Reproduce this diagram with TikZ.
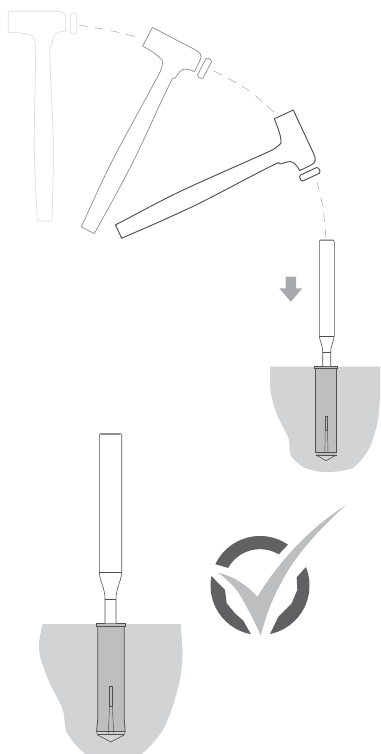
\documentclass[tikz,border=0pt]{standalone}
\definecolor{pale}{HTML}{DCDDDE}
\definecolor{midg}{HTML}{8C8D8F}
\definecolor{darkg}{HTML}{4F5052}
\definecolor{soil}{HTML}{D1D3D4}
\definecolor{sleeve}{HTML}{BCBEC0}
\definecolor{arrowg}{HTML}{A7A9AC}
\tikzset{
  tool/.style={draw=darkg,line width=0.6pt,line join=round,fill=white},
  thinl/.style={draw=darkg,line width=0.45pt},
  arcdash/.style={draw=midg!80,line width=0.5pt,dash pattern=on 9pt off 7pt},
  dark/.style={fill=darkg!90!white,draw=none}
}
\newcommand{\hammerbody}[2]{%
  \draw[#1,line width=#2,line join=round,fill=white]
    (8.3,11.3) -- (57,11.3) .. controls (62,11.3) and (65.7,13) .. (65.7,18) -- (66,31)
    .. controls (63,31.5) and (60,31.5) .. (58,32.5)
    .. controls (54,34) and (52.8,37) .. (52.5,41) -- (51.7,46) -- (49.7,47)
    .. controls (50,80) and (53.5,120) .. (53.3,150)
    .. controls (53.3,180) and (52.5,200) .. (52,221) -- (37.3,221)
    .. controls (36,190) and (34.3,170) .. (34.3,145)
    .. controls (34.3,110) and (35.5,80) .. (35.7,46.7)
    .. controls (35,42) and (34.5,39) .. (33.3,36.7)
    .. controls (30,34) and (20,32.5) .. (8.3,32.3) -- cycle;
  \draw[#1,line width=#2,fill=white,rounded corners=1.5pt]
    (70.3,13) rectangle (76.7,34);
}
\begin{document}
\begin{tikzpicture}[x=1pt,y=-1pt]
\useasboundingbox (0,0) rectangle (380,754);
% arc
\draw[arcdash] plot[smooth] coordinates {(79,25) (108,30) (137,37)};
\draw[arcdash] plot[smooth] coordinates {(214,71) (248,90) (277,115)};
\draw[arcdash] plot[smooth] coordinates {(317,182) (323,208) (326,239)};
% hammers
\hammerbody{pale}{0.7pt}
\begin{scope}[shift={(150.2,13.6)},rotate=-27.5]\hammerbody{midg}{0.7pt}\end{scope}
\begin{scope}[shift={(300,97.7)},rotate=-65]\hammerbody{darkg}{0.95pt}\end{scope}
% arrow
\fill[arrowg] (285.7,276.7) -- (296,276.7) -- (296,288.3) -- (302.3,288.3) -- (290.8,301.7) -- (279.3,288.3) -- (285.7,288.3) -- cycle;
% small ground
\fill[soil] (270,366.5) -- (380,366.5) -- (380,397) .. controls (379,420) and (376,432) .. (370,447)
  .. controls (364,458) and (358,464) .. (353,468) .. controls (345,471) and (335,472) .. (327,472)
  .. controls (318,472) and (310,470) .. (303,467) .. controls (296,462) and (291,458) .. (290,453)
  .. controls (289,445) and (290,442) .. (288,437) .. controls (284,428) and (281,424) .. (278,417)
  .. controls (274,407) and (271,397) .. (270,387) -- cycle;
% small anchor
\draw[tool,fill=soil] (316,455) -- (326,460.7) -- (336.5,455);
\fill[sleeve] (315.7,368) rectangle (336.7,454.5);
\draw[thinl,line width=0.7pt] (315.7,368) -- (315.7,452.5) (336.7,368) -- (336.7,452.5);
\draw[thinl] (315.7,452.5) -- (336.7,452.5) (315.7,455) -- (336.7,455);
\draw[thinl,fill=sleeve] (325.3,416.5) -- (327.5,416.5) -- (327.5,430) -- (325.3,430) -- cycle;
\draw[thinl] (325.3,430) -- (324.8,453) (327.5,430) -- (328,453);
\draw[thinl,fill=sleeve] (314.7,366) rectangle (337.7,368.7);
\draw[tool] (322.7,366) -- (322.7,352.7) .. controls (322.7,345) and (320,342) .. (319.3,336) -- (319.3,241.5) -- (320.3,240) -- (333.3,240) -- (334.3,241.5) -- (334.3,336) .. controls (333.7,342) and (330.7,345) .. (330.7,352.7) -- (330.7,366);
\draw[thinl] (322.7,352.7) -- (330.7,352.7) (319.3,336) -- (334.3,336);
\fill[midg] (320.3,240) rectangle (333.3,241.3);
% large ground
\fill[soil] (42.7,624) -- (180.7,624) -- (182.7,653) .. controls (182,670) and (180,682) .. (176.7,693)
  .. controls (173,707) and (168,720) .. (163,730) .. controls (156,740) and (150,747) .. (141.7,754)
  -- (85,754) .. controls (77,747) and (71,740) .. (66,731)
  .. controls (64,722) and (65,715) .. (61.7,706.7) .. controls (57,697) and (53,690) .. (48.3,680)
  .. controls (44,668) and (39,658) .. (39,646.7) .. controls (39,638) and (41,631) .. (42.7,624) -- cycle;
% large anchor
\draw[tool,fill=soil] (97.7,735) -- (110.9,742) -- (124,735);
\fill[sleeve] (97.7,626) -- (124.3,626) -- (124.3,720) -- (125,731.5) -- (96.3,731.5) -- (97.7,720) -- cycle;
\draw[thinl,line width=0.8pt] (97.7,626) -- (97.7,720) -- (96.5,731.7);
\draw[thinl,line width=0.8pt] (124.3,626) -- (124.3,720) -- (125.2,731.7);
\draw[thinl] (96.5,731.7) -- (125.2,731.7) (97.7,734.2) -- (124,734.2);
\draw[thinl] (96.5,731.7) -- (97.7,735) (125.2,731.7) -- (124,735);
\draw[thinl,fill=sleeve] (109.6,686.7) -- (112.2,686.7) -- (112.2,706) -- (109.6,706) -- cycle;
\draw[thinl] (109.6,706) -- (108.3,733.5) (112.2,706) -- (113.8,733.5);
\draw[thinl,fill=sleeve] (96.7,623.3) rectangle (125,626.7);
\draw[tool] (105,623.3) -- (105,599) .. controls (105,588) and (100,582) .. (99.3,572.7) -- (99.3,435) -- (101,433.3) -- (120,433.3) -- (121.7,435) -- (121.7,572.7) .. controls (121,582) and (116,588) .. (116,599) -- (116,623.3);
\draw[thinl] (105,599) -- (116,599) (99.3,572.7) -- (121.7,572.7);
\fill[midg] (101,433.3) rectangle (120,434.8);
% check ring
\fill[dark] plot[domain=205.5:304.4,samples=40] ({260+49.5*cos(\x)},{585.5+49.5*sin(\x)})
  -- plot[domain=301:208.9,samples=40] ({260+36.3*cos(\x)},{585.5+36.3*sin(\x)}) -- cycle;
\fill[dark] plot[domain=100.5:191,samples=40] ({260+49.5*cos(\x)},{585.5+49.5*sin(\x)})
  -- (225,590) -- (226.7,603.3) -- (235,613.3) -- (243.3,620.7) -- cycle;
\fill[dark] plot[domain=-21.9:78.3,samples=40] ({260+49.5*cos(\x)},{585.5+49.5*sin(\x)})
  -- (278.3,616.7) -- (291.7,603.3) -- (297.3,590) -- (296.7,577.3) -- cycle;
% check mark
\fill[sleeve] (218.3,572.7) .. controls (233,576) and (247,585) .. (257.3,596.7)
  .. controls (280,560) and (310,528) .. (346,505)
  .. controls (315,533) and (292,560) .. (280,585)
  .. controls (270,603) and (265,620) .. (260.7,635.7)
  .. controls (254,620) and (245,603) .. (238,592)
  .. controls (232,584) and (225,578) .. (218.3,572.7) -- cycle;
\end{tikzpicture}
\end{document}
